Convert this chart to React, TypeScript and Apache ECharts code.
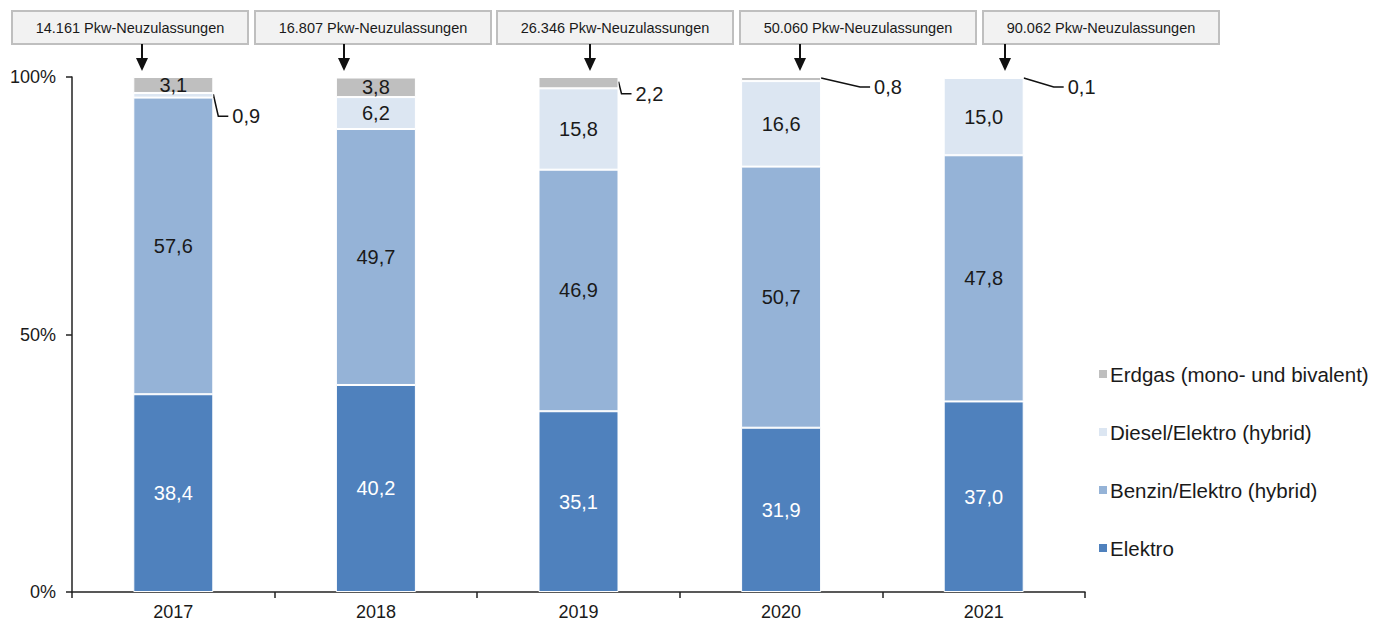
import React, { useEffect, useRef } from "react";
import * as echarts from "echarts";

const years = ["2017", "2018", "2019", "2020", "2021"];
const elektro = [38.4, 40.2, 35.1, 31.9, 37.0];
const benzinHybrid = [57.6, 49.7, 46.9, 50.7, 47.8];
const dieselHybrid = [0.9, 6.2, 15.8, 16.6, 15.0];
const erdgas = [3.1, 3.8, 2.2, 0.8, 0.1];
const registrations = ["14.161", "16.807", "26.346", "50.060", "90.062"];
const yTicks = [0, 50, 100];

const seriesNames = [
  "Elektro",
  "Benzin/Elektro (hybrid)",
  "Diesel/Elektro (hybrid)",
  "Erdgas (mono- und bivalent)",
];
const colors = ["#4F81BD", "#95B3D7", "#DCE6F2", "#BFBFBF"];

// callouts: [seriesIndex, dataIndex, dx, dy]
const callouts: [number, number, number, number][] = [
  [2, 0, 5, 22],
  [3, 2, 3, 12],
  [3, 3, 39, 9],
  [3, 4, 30, 9],
];

const boxX = [12, 255, 497, 740, 983];
const arrowX = [142, 344, 590, 800, 1005];

const fmt = (v: number) => v.toFixed(1).replace(".", ",");
const FONT = "'Liberation Sans', Arial, sans-serif";

export default function App() {
  const ref = useRef<HTMLDivElement>(null);
  useEffect(() => {
    if (!ref.current) return;
    const chart = echarts.init(ref.current, null, { renderer: "svg" });
    const all = [elektro, benzinHybrid, dieselHybrid, erdgas];
    const isCallout = (s: number, d: number) =>
      callouts.some((c) => c[0] === s && c[1] === d);

    const series = all.map((arr, s) => ({
      name: seriesNames[s],
      type: "bar",
      stack: "total",
      barWidth: 80,
      itemStyle: { color: colors[s], borderColor: "#ffffff", borderWidth: 1 },
      label: {
        show: true,
        position: "inside",
        fontFamily: FONT,
        fontSize: 20,
        color: s === 0 ? "#ffffff" : "#1a1a1a",
        formatter: (p: any) => (isCallout(s, p.dataIndex) ? "" : fmt(p.value)),
      },
      data: arr,
    }));

    const option: any = {
      animation: false,
      textStyle: { fontFamily: FONT },
      grid: { left: 72, right: 301, top: 77, bottom: 31, containLabel: false },
      legend: {
        orient: "vertical",
        left: 1092,
        top: 358,
        itemWidth: 10,
        itemHeight: 10,
        itemGap: 36,
        icon: "rect",
        data: [...seriesNames].reverse(),
        textStyle: { fontFamily: FONT, fontSize: 20.5, lineHeight: 22, color: "#1a1a1a", padding: [0, 0, 0, -3] },
      },
      xAxis: {
        type: "category",
        data: years,
        axisLine: { lineStyle: { color: "#222", width: 1.5 } },
        axisTick: { show: true, alignWithLabel: false, length: 6, lineStyle: { color: "#222", width: 1.5 } },
        axisLabel: { fontFamily: FONT, fontSize: 18, color: "#1a1a1a", margin: 11 },
      },
      yAxis: {
        type: "value",
        min: yTicks[0],
        max: yTicks[yTicks.length - 1],
        interval: 50,
        axisLine: { show: true, lineStyle: { color: "#222", width: 1.5 } },
        axisTick: { show: true, length: 6, lineStyle: { color: "#222", width: 1.5 } },
        splitLine: { show: false },
        axisLabel: { fontFamily: FONT, fontSize: 18, color: "#1a1a1a", formatter: "{value}%", margin: 16 },
      },
      series,
    };
    chart.setOption(option);

    const graphics: any[] = [];
    registrations.forEach((r, i) => {
      graphics.push({
        type: "rect",
        shape: { x: boxX[i], y: 11, width: 236, height: 33 },
        style: { fill: "#F2F2F2", stroke: "#BFBFBF", lineWidth: 2 },
      });
      graphics.push({
        type: "text",
        x: boxX[i] + 118,
        y: 28,
        style: {
          text: r + " Pkw-Neuzulassungen",
          font: `14.5px ${FONT}`,
          fill: "#1a1a1a",
          align: "center",
          verticalAlign: "middle",
        },
      });
      graphics.push({
        type: "line",
        shape: { x1: arrowX[i], y1: 44, x2: arrowX[i], y2: 60 },
        style: { stroke: "#111", lineWidth: 2 },
      });
      graphics.push({
        type: "polygon",
        shape: { points: [[arrowX[i] - 6, 58], [arrowX[i] + 6, 58], [arrowX[i], 71]] },
        style: { fill: "#111" },
      });
    });

    callouts.forEach(([s, d, dx, dy]) => {
      let base = 0;
      for (let k = 0; k < s; k++) base += all[k][d];
      const mid = base + all[s][d] / 2;
      const p = chart.convertToPixel({ xAxisIndex: 0, yAxisIndex: 0 }, [d, mid]) as number[];
      const x0 = p[0] + 40;
      const y0 = Math.max(p[1] - 1, 78);
      const x1 = x0 + dx;
      const y1 = y0 + dy;
      graphics.push({
        type: "polyline",
        shape: { points: [[x0, y0], [x1, y1], [x1 + 10, y1]] },
        style: { stroke: "#111", lineWidth: 1.5, fill: null },
      });
      graphics.push({
        type: "text",
        x: x1 + 14,
        y: y1,
        style: {
          text: fmt(all[s][d]),
          font: `20px ${FONT}`,
          fill: "#1a1a1a",
          align: "left",
          verticalAlign: "middle",
        },
      });
    });
    chart.setOption({ graphic: graphics });

    return () => chart.dispose();
  }, []);
  return (
    <div
      ref={ref}
      style={{ position: "fixed", left: 0, top: 0, width: 1386, height: 623, background: "#fff" }}
    />
  );
}
